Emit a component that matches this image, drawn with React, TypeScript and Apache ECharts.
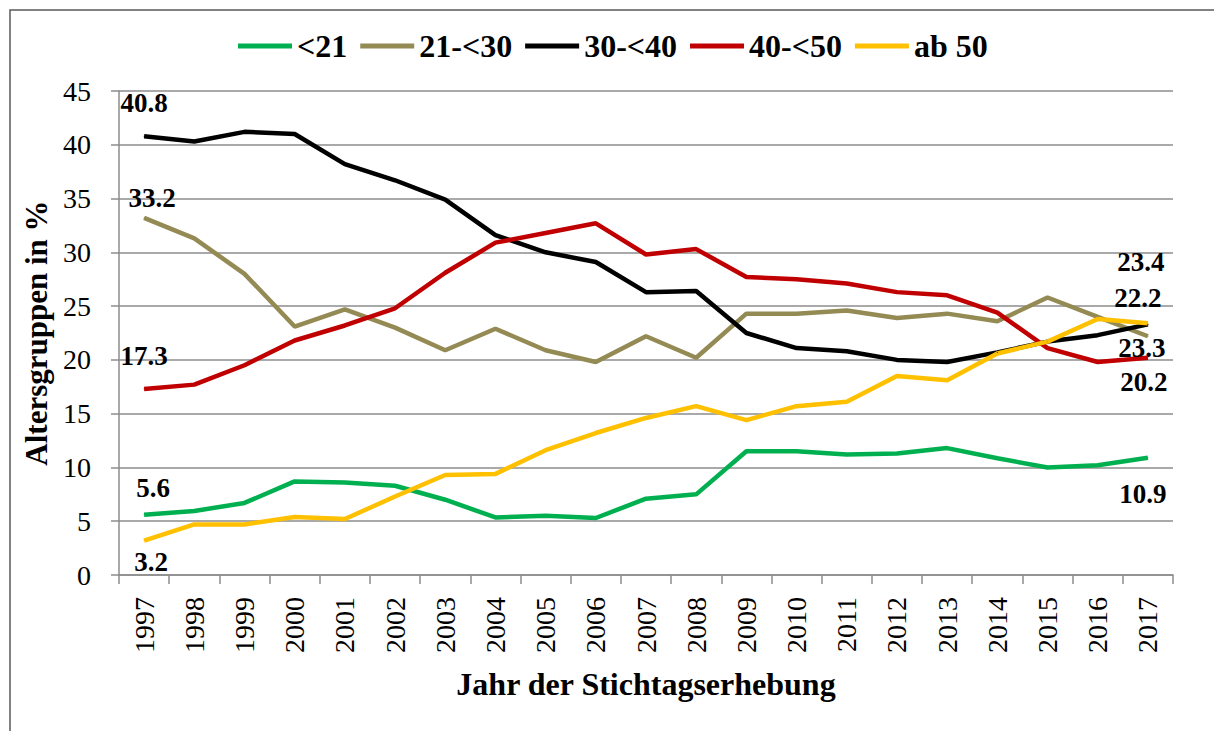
import React, { useEffect, useRef } from "react";
import * as echarts from "echarts";

const years = ["1997","1998","1999","2000","2001","2002","2003","2004","2005","2006","2007","2008","2009","2010","2011","2012","2013","2014","2015","2016","2017"];
const seriesNames = ["<21", "21-<30", "30-<40", "40-<50", "ab 50"];
const lt21 = [5.6, 5.95, 6.7, 8.7, 8.6, 8.3, 7.0, 5.35, 5.5, 5.3, 7.1, 7.5, 11.5, 11.5, 11.2, 11.3, 11.8, 10.85, 10.0, 10.2, 10.9];
const from21to30 = [33.2, 31.3, 28.0, 23.1, 24.7, 23.0, 20.9, 22.9, 20.9, 19.8, 22.2, 20.2, 24.3, 24.3, 24.6, 23.9, 24.3, 23.6, 25.8, 24.0, 22.2];
const from30to40 = [40.8, 40.3, 41.2, 41.0, 38.2, 36.7, 34.9, 31.6, 30.0, 29.1, 26.3, 26.4, 22.5, 21.1, 20.8, 20.0, 19.8, 20.7, 21.7, 22.3, 23.3];
const from40to50 = [17.3, 17.7, 19.5, 21.8, 23.2, 24.8, 28.1, 30.9, 31.8, 32.7, 29.8, 30.3, 27.7, 27.5, 27.1, 26.3, 26.0, 24.4, 21.1, 19.8, 20.2];
const ab50 = [3.2, 4.7, 4.7, 5.4, 5.2, 7.3, 9.3, 9.4, 11.6, 13.2, 14.6, 15.7, 14.4, 15.7, 16.1, 18.5, 18.1, 20.6, 21.7, 23.8, 23.4];
const yTicks = { min: 0, max: 45, interval: 5 };

const allValues = [lt21, from21to30, from30to40, from40to50, ab50];
const colors = ["#00B050", "#948A54", "#000000", "#C00000", "#FFC000"];
const firstOffsets = [[9, -27], [8, -20], [0, -33], [0, -33], [7, 21]];
const lastOffsets = [[-5, 36], [-10, -38], [-6, 24], [-4, 24], [-7, -61]];

const FONT = "Liberation Serif, DejaVu Serif, serif";

const labelStyle = {
  show: true,
  position: "inside",
  fontFamily: FONT,
  fontWeight: "bold",
  fontSize: 27,
  color: "#000",
};

function buildData(vals: number[], first: number[], last: number[]) {
  return vals.map((v, i) => {
    if (i === 0) return { value: v, label: { ...labelStyle, offset: first } };
    if (i === vals.length - 1) return { value: v, label: { ...labelStyle, offset: last } };
    return v;
  });
}

export default function App() {
  const ref = useRef<HTMLDivElement>(null);
  useEffect(() => {
    document.body.style.margin = "0";
    if (!ref.current) return;
    const chart = echarts.init(ref.current, undefined, { renderer: "svg" });
    const gridColor = "#8C8C8C";
    chart.setOption({
      animation: false,
      backgroundColor: "#fff",
      textStyle: { fontFamily: FONT },
      graphic: [
        {
          type: "rect",
          z: -10,
          shape: { x: 10, y: 10, width: 1240, height: 760 },
          style: { fill: "none", stroke: "#595959", lineWidth: 1.5 },
        },
      ],
      legend: {
        left: 233,
        top: 25,
        icon: "rect",
        itemWidth: 54,
        itemHeight: 5,
        itemGap: 13,
        textStyle: { fontFamily: FONT, fontWeight: "bold", fontSize: 32, color: "#000" },
        data: seriesNames,
      },
      grid: { left: 119, right: 41, top: 91, bottom: 156, containLabel: false },
      xAxis: {
        type: "category",
        data: years,
        boundaryGap: true,
        name: "Jahr der Stichtagserhebung",
        nameLocation: "middle",
        nameGap: 93,
        nameTextStyle: { fontFamily: FONT, fontWeight: "bold", fontSize: 32, color: "#000" },
        axisLine: { lineStyle: { color: gridColor, width: 1.5 } },
        axisTick: { show: true, length: 9, lineStyle: { color: gridColor, width: 1.5 } },
        axisLabel: { rotate: 90, margin: 22, fontFamily: FONT, fontSize: 28, color: "#000", interval: 0 },
      },
      yAxis: {
        type: "value",
        min: yTicks.min,
        max: yTicks.max,
        interval: yTicks.interval,
        name: "Altersgruppen in %",
        nameLocation: "middle",
        nameGap: 64,
        nameTextStyle: { fontFamily: FONT, fontWeight: "bold", fontSize: 31, color: "#000" },
        axisLine: { show: true, lineStyle: { color: gridColor, width: 1.5 } },
        axisTick: { show: true, length: 8, lineStyle: { color: gridColor, width: 1.5 } },
        axisLabel: { margin: 28, fontFamily: FONT, fontSize: 28, color: "#000" },
        splitLine: { show: true, lineStyle: { color: gridColor, width: 1.5 } },
      },
      series: seriesNames.map((name, k) => ({
        name,
        type: "line",
        data: buildData(allValues[k], firstOffsets[k], lastOffsets[k]),
        color: colors[k],
        symbol: "circle",
        symbolSize: 1,
        showSymbol: true,
        lineStyle: { width: 4.5, color: colors[k] },
        itemStyle: { color: colors[k] },
        label: { show: false },
        emphasis: { disabled: true },
      })),
    });
    return () => chart.dispose();
  }, []);
  return <div ref={ref} style={{ width: 1214, height: 731 }} />;
}
